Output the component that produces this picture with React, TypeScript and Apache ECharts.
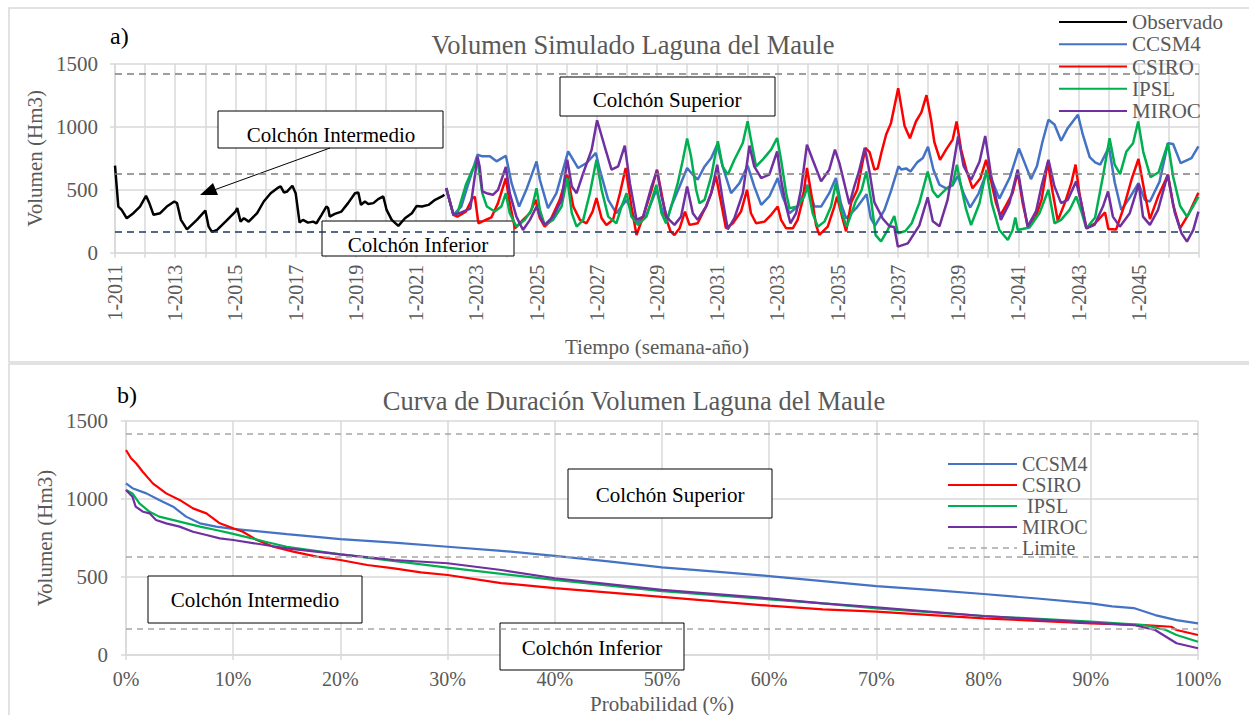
import React, { useEffect, useRef } from "react";
import * as echarts from "echarts";

const FONT = "Liberation Serif, Times New Roman, serif";
const GRAY_TXT = "#595959";
const GRID = "#d9d9d9";

// ---------- a) weekly volume (year as decimal, value in Hm3) ----------
const observado: number[][] = [
  [2011.0, 692], [2011.11, 367], [2011.22, 340], [2011.39, 274], [2011.61, 314], [2011.83, 367],
  [2012.03, 452], [2012.14, 394], [2012.28, 301], [2012.5, 314], [2012.72, 367], [2012.97, 407],
  [2013.06, 394], [2013.19, 261], [2013.39, 186], [2013.72, 261], [2014.0, 335], [2014.11, 207],
  [2014.22, 165], [2014.39, 181], [2014.67, 247], [2015.0, 327], [2015.06, 354], [2015.17, 247],
  [2015.28, 274], [2015.44, 247], [2015.72, 314], [2015.94, 407], [2016.17, 473], [2016.39, 513],
  [2016.5, 527], [2016.61, 479], [2016.72, 487], [2016.89, 532], [2017.0, 473], [2017.13, 239],
  [2017.24, 261], [2017.41, 239], [2017.58, 247], [2017.69, 234], [2017.86, 301], [2018.02, 367],
  [2018.08, 354], [2018.13, 287], [2018.3, 309], [2018.52, 327], [2018.74, 394], [2018.97, 473],
  [2019.08, 479], [2019.17, 380], [2019.3, 407], [2019.41, 388], [2019.58, 394], [2019.74, 426],
  [2019.91, 447], [2020.02, 340], [2020.19, 261], [2020.41, 213], [2020.63, 274], [2020.86, 314],
  [2021.02, 372], [2021.19, 367], [2021.41, 380], [2021.63, 420], [2021.86, 447], [2021.94, 460],
];

const ccsm4: number[][] = [
  [2022.0, 513], [2022.24, 301], [2022.5, 367], [2022.75, 560], [2023.04, 779], [2023.2, 766],
  [2023.45, 766], [2023.67, 726], [2023.98, 771], [2024.17, 553], [2024.42, 367], [2024.66, 500],
  [2025.0, 726], [2025.11, 580], [2025.38, 354], [2025.66, 473], [2026.05, 806], [2026.38, 673],
  [2026.66, 713], [2026.97, 793], [2027.1, 660], [2027.38, 420], [2027.65, 314], [2027.99, 420],
  [2028.32, 234], [2028.65, 301], [2028.98, 500], [2029.2, 314], [2029.35, 270], [2029.47, 367],
  [2029.75, 527], [2030.0, 673], [2030.19, 620], [2030.35, 580], [2030.58, 686], [2030.8, 753],
  [2031.0, 859], [2031.18, 686], [2031.46, 473], [2031.74, 553], [2032.01, 692], [2032.23, 527],
  [2032.46, 380], [2032.73, 447], [2033.01, 593], [2033.17, 447], [2033.4, 314], [2033.67, 367],
  [2034.0, 540], [2034.23, 367], [2034.45, 367], [2034.72, 473], [2034.94, 593], [2035.11, 392],
  [2035.28, 273], [2035.61, 352], [2035.96, 465], [2036.1, 275], [2036.24, 215], [2036.55, 339],
  [2036.77, 490], [2037.02, 686], [2037.11, 662], [2037.27, 670], [2037.42, 646], [2037.64, 718],
  [2037.83, 752], [2038.0, 842], [2038.18, 660], [2038.38, 540], [2038.6, 512], [2038.82, 535],
  [2038.99, 612], [2039.18, 472], [2039.4, 360], [2039.68, 470], [2039.93, 625], [2040.15, 560],
  [2040.37, 430], [2040.72, 600], [2041.02, 828], [2041.2, 720], [2041.42, 585], [2041.62, 690],
  [2041.8, 880], [2042.0, 1057], [2042.2, 1019], [2042.42, 890], [2042.64, 990], [2042.98, 1097],
  [2043.14, 940], [2043.37, 760], [2043.55, 718], [2043.72, 700], [2044.01, 840], [2044.2, 560],
  [2044.42, 340], [2044.72, 445], [2044.99, 552], [2045.2, 420], [2045.37, 407], [2045.69, 565],
  [2045.97, 870], [2046.14, 864], [2046.39, 712], [2046.75, 752], [2046.98, 845],
];

const csiro: number[][] = [
  [2022.0, 513], [2022.24, 301], [2022.37, 286], [2022.65, 326], [2022.87, 432], [2022.95, 445],
  [2023.07, 233], [2023.31, 260], [2023.5, 280], [2023.72, 394], [2023.98, 593], [2024.09, 420],
  [2024.28, 194], [2024.55, 261], [2024.78, 314], [2024.97, 420], [2025.11, 274], [2025.27, 207],
  [2025.44, 247], [2025.77, 420], [2026.02, 620], [2026.22, 367], [2026.44, 261], [2026.66, 234],
  [2026.86, 327], [2026.99, 434], [2027.16, 274], [2027.32, 221], [2027.54, 261], [2027.77, 473],
  [2027.96, 673], [2028.15, 367], [2028.32, 141], [2028.54, 287], [2028.82, 500], [2029.0, 660],
  [2029.15, 473], [2029.32, 261], [2029.45, 170], [2029.58, 141], [2029.75, 194], [2029.93, 327],
  [2030.08, 221], [2030.35, 234], [2030.63, 367], [2030.8, 473], [2030.96, 606], [2031.13, 394],
  [2031.29, 194], [2031.52, 234], [2031.79, 327], [2031.99, 500], [2032.12, 314], [2032.29, 234],
  [2032.57, 247], [2032.79, 301], [2033.01, 367], [2033.12, 261], [2033.29, 194], [2033.51, 194],
  [2033.67, 261], [2033.84, 420], [2033.98, 673], [2034.12, 473], [2034.28, 221], [2034.39, 141],
  [2034.67, 207], [2034.89, 367], [2034.98, 447], [2035.16, 274], [2035.28, 170], [2035.45, 400],
  [2035.65, 500], [2035.92, 833], [2036.06, 800], [2036.22, 660], [2036.33, 670], [2036.45, 793],
  [2036.61, 940], [2036.77, 1030], [2037.01, 1308], [2037.22, 1010], [2037.4, 910], [2037.6, 1043],
  [2037.78, 1115], [2037.95, 1252], [2038.1, 1059], [2038.21, 880], [2038.4, 738], [2038.6, 819],
  [2038.82, 899], [2038.95, 1043], [2039.1, 818], [2039.28, 652], [2039.48, 512], [2039.74, 592],
  [2039.93, 738], [2040.05, 620], [2040.26, 394], [2040.4, 295], [2040.6, 380], [2040.81, 473],
  [2040.98, 640], [2041.14, 400], [2041.31, 214], [2041.57, 280], [2041.77, 420], [2041.98, 720],
  [2042.14, 480], [2042.31, 254], [2042.55, 400], [2042.76, 553], [2042.9, 700], [2043.03, 470],
  [2043.26, 194], [2043.55, 234], [2043.88, 320], [2043.99, 188], [2044.25, 185], [2044.5, 360],
  [2044.77, 590], [2044.99, 745], [2045.2, 470], [2045.37, 267], [2045.64, 446], [2045.97, 619],
  [2046.14, 380], [2046.37, 194], [2046.64, 300], [2046.98, 476],
];

const ipsl: number[][] = [
  [2022.0, 513], [2022.24, 301], [2022.37, 313], [2022.65, 538], [2022.85, 650], [2023.04, 739],
  [2023.2, 472], [2023.35, 367], [2023.61, 327], [2023.83, 367], [2023.98, 473], [2024.11, 314],
  [2024.33, 207], [2024.61, 261], [2024.83, 340], [2025.0, 513], [2025.11, 340], [2025.27, 221],
  [2025.55, 261], [2025.83, 367], [2026.02, 593], [2026.17, 314], [2026.33, 207], [2026.55, 261],
  [2026.77, 473], [2026.99, 739], [2027.16, 500], [2027.38, 287], [2027.65, 234], [2027.82, 367],
  [2027.99, 473], [2028.15, 287], [2028.37, 221], [2028.65, 287], [2028.98, 540], [2029.15, 314],
  [2029.3, 234], [2029.47, 367], [2029.69, 553], [2029.86, 739], [2030.0, 907], [2030.13, 766],
  [2030.3, 500], [2030.41, 394], [2030.58, 420], [2030.8, 606], [2031.02, 886], [2031.18, 686],
  [2031.35, 620], [2031.57, 739], [2031.85, 872], [2032.01, 1045], [2032.12, 899], [2032.29, 686],
  [2032.51, 739], [2032.79, 819], [2032.99, 912], [2033.12, 739], [2033.29, 473], [2033.4, 354],
  [2033.67, 367], [2033.89, 447], [2034.0, 527], [2034.17, 314], [2034.34, 207], [2034.56, 247],
  [2034.78, 367], [2034.94, 552], [2035.11, 339], [2035.3, 205], [2035.6, 410], [2035.8, 500],
  [2035.95, 645], [2036.11, 420], [2036.26, 140], [2036.44, 90], [2036.66, 180], [2036.88, 292],
  [2037.0, 154], [2037.25, 172], [2037.46, 234], [2037.71, 394], [2037.99, 645], [2038.16, 490],
  [2038.32, 440], [2038.6, 505], [2038.82, 545], [2038.96, 700], [2039.1, 526], [2039.26, 350],
  [2039.43, 220], [2039.71, 393], [2039.94, 660], [2040.12, 390], [2040.37, 180], [2040.65, 101],
  [2040.81, 180], [2040.9, 280], [2040.98, 180], [2041.37, 200], [2041.7, 313], [2042.0, 500],
  [2042.2, 234], [2042.42, 261], [2042.7, 340], [2042.92, 447], [2043.09, 330], [2043.26, 194],
  [2043.55, 280], [2043.82, 620], [2044.03, 910], [2044.2, 700], [2044.38, 625], [2044.59, 805],
  [2044.81, 870], [2044.98, 1043], [2045.15, 800], [2045.39, 600], [2045.66, 640], [2045.97, 870],
  [2046.14, 606], [2046.37, 373], [2046.6, 287], [2046.8, 366], [2046.98, 446],
];

const miroc: number[][] = [
  [2022.0, 513], [2022.24, 301], [2022.5, 320], [2022.8, 350], [2023.04, 763], [2023.11, 686],
  [2023.2, 487], [2023.34, 473], [2023.55, 460], [2023.72, 500], [2023.98, 681], [2024.11, 473],
  [2024.33, 287], [2024.55, 181], [2024.78, 261], [2025.0, 367], [2025.11, 287], [2025.27, 221],
  [2025.55, 287], [2025.83, 420], [2026.02, 739], [2026.17, 527], [2026.33, 473], [2026.55, 633],
  [2026.83, 819], [2027.01, 1053], [2027.26, 846], [2027.49, 660], [2027.71, 686], [2027.93, 851],
  [2028.1, 553], [2028.32, 261], [2028.54, 287], [2028.82, 527], [2029.0, 654], [2029.15, 447],
  [2029.32, 287], [2029.41, 261], [2029.58, 221], [2029.8, 287], [2030.0, 527], [2030.19, 314],
  [2030.35, 261], [2030.63, 367], [2030.8, 473], [2031.0, 700], [2031.18, 420], [2031.35, 186],
  [2031.57, 274], [2031.85, 473], [2032.07, 851], [2032.23, 686], [2032.46, 593], [2032.73, 620],
  [2032.99, 806], [2033.12, 580], [2033.29, 367], [2033.43, 234], [2033.62, 314], [2033.78, 500],
  [2033.98, 859], [2034.17, 739], [2034.45, 567], [2034.72, 660], [2034.91, 819], [2035.06, 710],
  [2035.39, 385], [2035.55, 525], [2035.7, 640], [2035.9, 833], [2036.06, 640], [2036.22, 400],
  [2036.5, 270], [2036.72, 210], [2036.88, 205], [2037.0, 48], [2037.33, 74], [2037.71, 215],
  [2037.99, 440], [2038.16, 250], [2038.38, 210], [2038.65, 419], [2039.0, 925], [2039.18, 690],
  [2039.43, 578], [2039.71, 723], [2039.9, 928], [2040.09, 620], [2040.42, 261], [2040.7, 392],
  [2040.98, 660], [2041.15, 419], [2041.31, 207], [2041.59, 330], [2041.78, 540], [2042.0, 739],
  [2042.2, 527], [2042.42, 394], [2042.64, 420], [2042.92, 567], [2043.09, 394], [2043.26, 194],
  [2043.53, 221], [2043.81, 367], [2043.98, 487], [2044.14, 287], [2044.37, 207], [2044.7, 314],
  [2045.0, 548], [2045.14, 287], [2045.37, 221], [2045.64, 340], [2045.96, 620], [2046.2, 314],
  [2046.42, 154], [2046.6, 88], [2046.81, 181], [2046.98, 327],
];

// ---------- b) duration curves (probability %, value in Hm3) ----------
const durCCSM4: number[][] = [
  [0, 1100], [0.6, 1069], [1.9, 1036], [3.1, 994], [4.4, 951], [5.6, 887], [6.9, 844], [8.4, 823],
  [10, 808], [15, 775], [20, 743], [25, 720], [30, 694], [35, 668], [40, 635], [45, 600], [50, 562],
  [55, 535], [60, 506], [65, 474], [70, 442], [75, 418], [80, 391], [85, 362], [90, 331], [92, 312],
  [94, 301], [96, 256], [98, 224], [100, 203],
];
const durCSIRO: number[][] = [
  [0, 1314], [0.47, 1261], [0.94, 1229], [1.56, 1175], [2.5, 1100], [3.75, 1036], [5, 994],
  [6.25, 940], [7.5, 908], [8.75, 844], [10, 812], [10.9, 790], [12.2, 737], [13.75, 694],
  [15.6, 663], [17.8, 631], [20, 609], [22.5, 577], [25, 555], [27.5, 530], [30, 513], [35, 461],
  [40, 429], [50, 372], [60, 316], [65, 293], [70, 278], [80, 235], [90, 203], [95, 192],
  [97.5, 181], [98, 160], [100, 128],
];
const durIPSL: number[][] = [
  [0, 1058], [0.6, 1036], [1.25, 972], [2.2, 918], [3.1, 887], [5, 855], [6.9, 823], [8.4, 801],
  [10, 776], [13, 726], [15, 694], [20, 645], [30, 560], [40, 481], [50, 410], [60, 357], [65, 331],
  [70, 299], [80, 250], [90, 214], [95, 192], [97, 160], [98, 128], [100, 85],
];
const durMIROC: number[][] = [
  [0, 1058], [0.6, 1015], [0.9, 951], [1.6, 918], [2.2, 908], [2.8, 865], [3.75, 844], [5, 823],
  [6.25, 790], [7.5, 769], [8.75, 748], [10, 737], [13, 705], [15, 684], [20, 645], [25, 609],
  [30, 588], [35, 545], [40, 492], [50, 417], [60, 363], [65, 331], [70, 306], [80, 250], [90, 207],
  [94, 192], [96, 160], [98, 75], [100, 43],
];

const limites = [1420, 630, 170];
const yearTicks = { min: 2011, max: 2047 };

const COLORS = {
  Observado: "#000000",
  CCSM4: "#4472C4",
  CSIRO: "#FF0000",
  IPSL: "#00B050",
  MIROC: "#7030A0",
};

function lineSeries(name: string, data: number[][], color: string, idx: number, width: number, z = 2) {
  return {
    name,
    type: "line",
    xAxisIndex: idx,
    yAxisIndex: idx,
    data,
    symbol: "none",
    showSymbol: false,
    smooth: false,
    z,
    lineStyle: { color, width },
    itemStyle: { color },
  };
}

function box(x: number, y: number, w: number, h: number) {
  return {
    type: "rect",
    z: 1,
    shape: { x, y, width: w, height: h },
    style: { fill: "#ffffff", stroke: "#000000", lineWidth: 1 },
  };
}
function label(text: string, x: number, y: number, size: number, fill: string, align = "center") {
  return {
    type: "text",
    z: 5,
    x,
    y,
    style: { text, fill, fontSize: size, fontFamily: FONT, align, verticalAlign: "middle" },
  };
}

export default function App() {
  const ref = useRef<HTMLDivElement>(null);
  useEffect(() => {
    if (!ref.current) return;
    const chart = echarts.init(ref.current, undefined, { renderer: "svg" });

    const axisCommon = {
      axisLine: { show: true, lineStyle: { color: GRID, width: 1.5 } },
      axisTick: { show: true, length: 5, lineStyle: { color: GRID, width: 1.5 } },
      splitLine: { show: true, lineStyle: { color: GRID, width: 1.5 } },
    };
    const nameStyle = { fontSize: 21, color: GRAY_TXT, fontFamily: FONT, fontWeight: "normal" };
    const plain = (v: number) => String(Math.round(v));

    const option: any = {
      animation: false,
      textStyle: { fontFamily: FONT },
      grid: [
        { left: 115, right: 50, top: 64, height: 188.7 },
        { left: 126, right: 51, top: 421, height: 234 },
      ],
      xAxis: [
        {
          gridIndex: 0,
          type: "value",
          min: yearTicks.min,
          max: yearTicks.max,
          interval: 1,
          ...axisCommon,
          axisLabel: {
            rotate: 90,
            margin: 12,
            fontSize: 20,
            color: GRAY_TXT,
            fontFamily: FONT,
            formatter: (v: number) => {
              const y = Math.round(v);
              return y % 2 === 1 && y < yearTicks.max ? "1-" + y : "";
            },
          },
          name: "Tiempo (semana-año)",
          nameLocation: "middle",
          nameGap: 84,
          nameTextStyle: nameStyle,
        },
        {
          gridIndex: 1,
          type: "value",
          min: 0,
          max: 100,
          interval: 10,
          ...axisCommon,
          axisLabel: {
            margin: 14,
            fontSize: 20,
            color: GRAY_TXT,
            fontFamily: FONT,
            formatter: (v: number) => Math.round(v) + "%",
          },
          name: "Probabilidad (%)",
          nameLocation: "middle",
          nameGap: 38,
          nameTextStyle: nameStyle,
        },
      ],
      yAxis: [
        {
          gridIndex: 0,
          type: "value",
          min: 0,
          max: 1500,
          interval: 500,
          ...axisCommon,
          axisLabel: { margin: 17, fontSize: 21, color: GRAY_TXT, fontFamily: FONT, formatter: plain },
          name: "Volumen (Hm3)",
          nameLocation: "middle",
          nameGap: 62,
          nameTextStyle: nameStyle,
        },
        {
          gridIndex: 1,
          type: "value",
          min: 0,
          max: 1500,
          interval: 500,
          ...axisCommon,
          axisLabel: { margin: 18, fontSize: 21, color: GRAY_TXT, fontFamily: FONT, formatter: plain },
          name: "Volumen (Hm3)",
          nameLocation: "middle",
          nameGap: 69,
          nameTextStyle: nameStyle,
        },
      ],
      legend: [
        {
          data: ["Observado", "CCSM4", "CSIRO", "IPSL", "MIROC"],
          orient: "vertical",
          left: 1058,
          top: 11.5,
          padding: 0,
          itemWidth: 68,
          itemHeight: 14,
          itemGap: 1.25,
          selectedMode: false,
          itemStyle: { opacity: 0 },
          textStyle: { fontSize: 21, lineHeight: 21, color: GRAY_TXT, fontFamily: FONT },
        },
        {
          data: [
            "CCSM4 ",
            "CSIRO ",
            " IPSL",
            "MIROC ",
            { name: "Limite", lineStyle: { type: [6, 5], color: "#a6a6a6", width: 1.5 } },
          ],
          orient: "vertical",
          left: 947,
          top: 453.5,
          padding: 0,
          itemWidth: 69,
          itemHeight: 14,
          itemGap: 0,
          selectedMode: false,
          itemStyle: { opacity: 0 },
          textStyle: { fontSize: 20, lineHeight: 21, color: GRAY_TXT, fontFamily: FONT },
        },
      ],
      series: [
        {
          ...lineSeries("Observado", observado, COLORS.Observado, 0, 2.5),
          markLine: {
            silent: true,
            symbol: ["none", "none"],
            label: { show: false },
            data: limites.map((v, i) => ({
              yAxis: v,
              lineStyle: { color: i === 2 ? "#1F3864" : "#7f7f7f", type: [7, 5], width: 1.5 },
            })),
          },
        },
        lineSeries("CCSM4", ccsm4, COLORS.CCSM4, 0, 2.5),
        lineSeries("CSIRO", csiro, COLORS.CSIRO, 0, 2.5),
        lineSeries("IPSL", ipsl, COLORS.IPSL, 0, 2.5),
        lineSeries("MIROC", miroc, COLORS.MIROC, 0, 2.5),
        lineSeries("CCSM4 ", durCCSM4, COLORS.CCSM4, 1, 2.2),
        lineSeries("CSIRO ", durCSIRO, COLORS.CSIRO, 1, 2.2),
        lineSeries(" IPSL", durIPSL, COLORS.IPSL, 1, 2.2),
        lineSeries("MIROC ", durMIROC, COLORS.MIROC, 1, 2.2),
        {
          name: "Limite",
          type: "line",
          xAxisIndex: 1,
          yAxisIndex: 1,
          data: [],
          symbol: "none",
          lineStyle: { type: [6, 5], color: "#a6a6a6", width: 1.5 },
          itemStyle: { color: "#a6a6a6" },
          markLine: {
            silent: true,
            symbol: ["none", "none"],
            label: { show: false },
            lineStyle: { type: [6, 5], color: "#a6a6a6", width: 1.5 },
            data: limites.map((v) => ({ yAxis: v })),
          },
        },
      ],
      graphic: [
        // panel borders
        { type: "rect", z: 0, shape: { x: 9, y: 8, width: 1260, height: 354 }, style: { fill: "none", stroke: GRID, lineWidth: 1.5 } },
        { type: "rect", z: 0, shape: { x: 9, y: 364, width: 1260, height: 370 }, style: { fill: "none", stroke: GRID, lineWidth: 1.5 } },
        // titles & panel letters
        label("Volumen Simulado Laguna del Maule", 633, 45, 26.5, GRAY_TXT),
        label("Curva de Duración Volumen Laguna del Maule", 634, 401, 26.5, GRAY_TXT),
        label("a)", 110, 36, 24, "#000000", "left"),
        label("b)", 117, 395, 24, "#000000", "left"),
        // top boxes
        box(218, 111, 225, 37),
        label("Colchón Intermedio", 331, 134.5, 21, "#000000"),
        box(322, 221, 192, 35),
        label("Colchón Inferior", 418, 244.5, 21, "#000000"),
        box(560, 77, 215, 39),
        label("Colchón Superior", 667, 100, 21, "#000000"),
        // arrow
        { type: "line", z: 5, shape: { x1: 330, y1: 148, x2: 214, y2: 190 }, style: { stroke: "#000", lineWidth: 1 } },
        { type: "polygon", z: 5, shape: { points: [[200, 195], [218, 195], [213, 183]] }, style: { fill: "#000" } },
        // bottom boxes
        box(568, 469, 204, 49),
        label("Colchón Superior", 670, 494.5, 21, "#000000"),
        box(148, 576, 214, 47),
        label("Colchón Intermedio", 255, 599.5, 21, "#000000"),
        box(500, 623, 184, 47),
        label("Colchón Inferior", 592, 648, 21, "#000000"),
      ],
    };

    chart.setOption(option);
    return () => chart.dispose();
  }, []);

  return (
    <div
      ref={ref}
      style={{ position: "fixed", left: 0, top: 0, width: 1249, height: 715, background: "#fff" }}
    />
  );
}
